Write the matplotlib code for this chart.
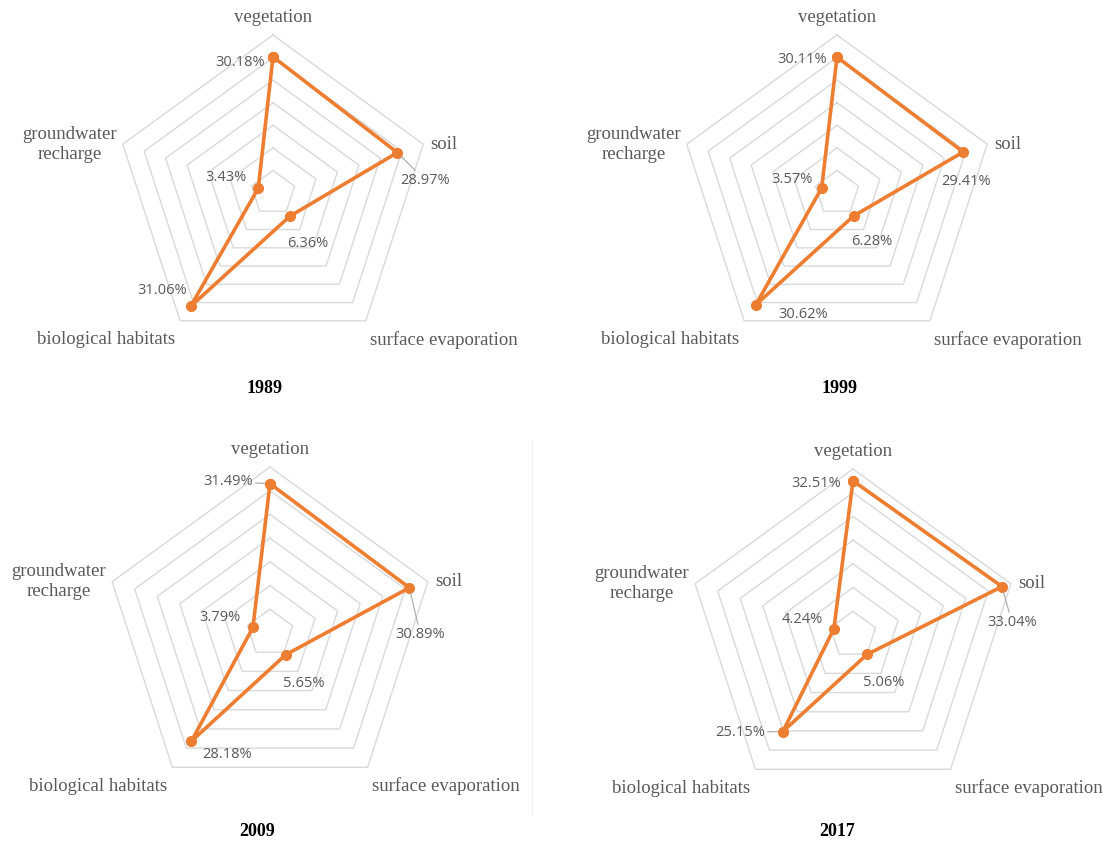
import numpy as np
import matplotlib
matplotlib.use("Agg")
import matplotlib.pyplot as plt
from matplotlib.lines import Line2D

# --- data ---
categories = ["vegetation", "soil", "surface evaporation",
              "biological habitats", "groundwater\nrecharge"]
years = ["1989", "1999", "2009", "2017"]
v1989 = [30.18, 28.97, 6.36, 31.06, 3.43]
v1999 = [30.11, 29.41, 6.28, 30.62, 3.57]
v2009 = [31.49, 30.89, 5.65, 28.18, 3.79]
v2017 = [32.51, 33.04, 5.06, 25.15, 4.24]
ring_levels = [5, 10, 15, 20, 25, 30, 35]

# --- layout (pixels on a 1119x843 canvas) ---
W, H = 1119, 843
centers = [(273, 193), (837, 193), (270, 633), (853, 635)]
radii = [158, 158, 166, 166]
year_pos = [(265, 388), (840, 388), (257, 832), (837, 832)]

# data label offsets (px) per panel, one per category
label_off = [
    [(-33, -6), (28, -28), (18, -27), (-28, 16), (-32, 11)],
    [(-35, -2), (3, -30), (18, -26), (47, -10), (-30, 9)],
    [(-42, 2), (11, -47), (18, -29), (36, -13), (-33, 10)],
    [(-37, -3), (10, -36), (17, -28), (-43, -1), (-32, 9)],
]
leaders = [
    [False, True, False, False, False],
    [False, False, False, False, False],
    [True, True, False, False, False],
    [False, True, False, True, False],
]
# category label offsets from outer vertex (px)
cat_off = [(0, 18), (7, 0), (4, -19), (-5, -19), (-6, 0)]
cat_ha = ["center", "left", "left", "right", "right"]

ORANGE = "#ED7D31"
GRID = "#d9d9d9"
TXT = "#595959"

fig = plt.figure(figsize=(W / 100, H / 100), dpi=100)
fig.patch.set_facecolor("white")

n = len(categories)
angles = np.arange(n) * 2 * np.pi / n
closed = np.append(angles, angles[0])

all_vals = [v1989, v1999, v2009, v2017]
for k, vals in enumerate(all_vals):
    cx, cy = centers[k]
    R = radii[k]
    ax = fig.add_axes([(cx - R) / W, (H - cy - R) / H, 2 * R / W, 2 * R / H],
                      projection="polar")
    ax.set_theta_zero_location("N")
    ax.set_theta_direction(-1)
    ax.set_ylim(0, 35)
    ax.set_xticks([])
    ax.set_yticks([])
    ax.grid(False)
    ax.spines["polar"].set_visible(False)
    ax.set_facecolor("none")

    for r in ring_levels:
        ax.plot(closed, [r] * (n + 1), color=GRID, lw=1.0, clip_on=False, zorder=1)

    ax.plot(closed, vals + vals[:1], color=ORANGE, lw=2.6, marker="o",
            markersize=7, clip_on=False, zorder=3)

    for i, v in enumerate(vals):
        dx, dy = label_off[k][i]
        props = dict(arrowstyle="-", color="#a6a6a6", lw=0.8,
                     shrinkA=0, shrinkB=4) if leaders[k][i] else None
        ax.annotate(f"{v:.2f}%", xy=(angles[i], v), xytext=(dx, dy),
                    textcoords="offset pixels", ha="center", va="center",
                    fontsize=10.5, color=TXT, family="Open Sans",
                    arrowprops=props, zorder=4, annotation_clip=False)

    for i, cat in enumerate(categories):
        dx, dy = cat_off[i]
        ax.annotate(cat, xy=(angles[i], 35), xytext=(dx, dy),
                    textcoords="offset pixels", ha=cat_ha[i], va="center",
                    multialignment="center", fontsize=13.5, color=TXT,
                    family="Liberation Serif", annotation_clip=False,
                    linespacing=1.25)

    yx, yy = year_pos[k]
    fig.text(yx / W, 1 - yy / H, years[k], ha="center", va="center",
             fontsize=13, fontweight="bold", family="Liberation Serif",
             color="black")

# faint chart border between the bottom panels
fig.add_artist(Line2D([532 / W, 532 / W], [1 - 440 / H, 1 - 815 / H],
                      color="#f0f0f0", lw=1))

fig.savefig("out.png", dpi=100)
